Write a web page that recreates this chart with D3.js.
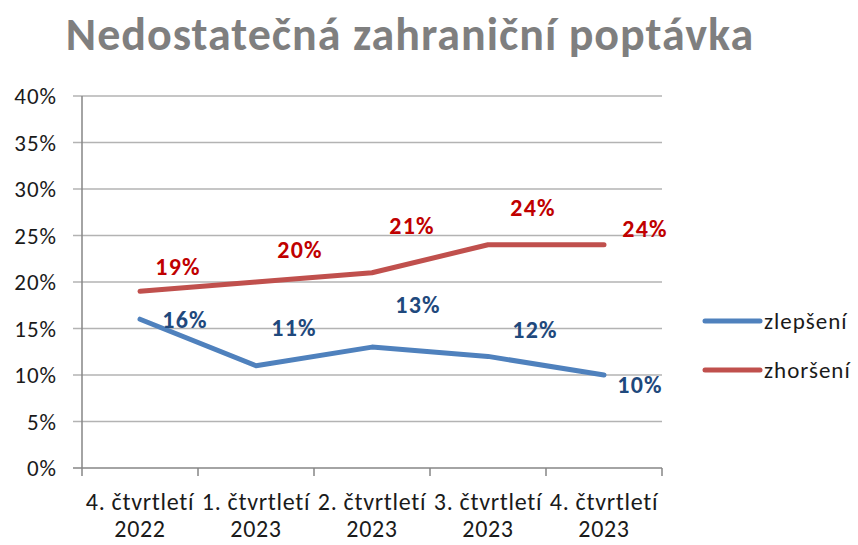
<!DOCTYPE html>
<html>
<head>
<meta charset="utf-8">
<script src="https://cdn.jsdelivr.net/npm/d3@7"></script>
<style>
  body { margin: 0; background: #fff; }
  text { font-family: Carlito, "Liberation Sans Narrow", "Noto Sans", sans-serif; }
</style>
</head>
<body>
<script>
const categories = [["4. čtvrtletí", "2022"], ["1. čtvrtletí", "2023"], ["2. čtvrtletí", "2023"], ["3. čtvrtletí", "2023"], ["4. čtvrtletí", "2023"]]
const zlepseni = [16, 11, 13, 12, 10]
const zhorseni = [19, 20, 21, 24, 24]
const yTicks = [0, 5, 10, 15, 20, 25, 30, 35, 40]
const seriesNames = ["zlepšení", "zhoršení"]

const width = 858, height = 545
const margin = {top: 96, left: 82, right: 196, bottom: 77}

const svg = d3.select("body").append("svg")
  .attr("width", width)
  .attr("height", height)

svg.append("text")
  .attr("x", 410).attr("y", 50)
  .attr("text-anchor", "middle")
  .attr("fill", "#7f7f7f")
  .attr("font-weight", "bold")
  .attr("font-size", 46)
  .attr("letter-spacing", 1)
  .text("Nedostatečná zahraniční poptávka")

const x = d3.scaleBand()
  .domain(d3.range(categories.length))
  .range([margin.left, width - margin.right])

const y = d3.scaleLinear()
  .domain([0, 40])
  .range([height - margin.bottom, margin.top])

// gridlines
svg.append("g")
  .selectAll("line")
  .data(yTicks)
  .enter().append("line")
  .attr("x1", margin.left - 9)
  .attr("x2", width - margin.right)
  .attr("y1", d => y(d)).attr("y2", d => y(d))
  .attr("stroke", d => d === 0 ? "#868686" : "#b3b3b3")
  .attr("stroke-width", 1.5)

svg.append("line")
  .attr("x1", margin.left).attr("x2", margin.left)
  .attr("y1", y(0)).attr("y2", y(40))
  .attr("stroke", "#868686").attr("stroke-width", 1.5)

// y labels
svg.append("g")
  .selectAll("text")
  .data(yTicks)
  .enter().append("text")
  .attr("x", 57).attr("y", d => y(d) + 8)
  .attr("text-anchor", "end")
  .attr("font-size", 23)
  .attr("letter-spacing", 1)
  .attr("fill", "#1a1a1a")
  .text(d => d + "%")

// x ticks at category boundaries
const bounds = d3.range(categories.length + 1).map(i => margin.left + i * x.step())
svg.append("g")
  .selectAll("line")
  .data(bounds)
  .enter().append("line")
  .attr("x1", d => d).attr("x2", d => d)
  .attr("y1", y(0)).attr("y2", y(0) + 8)
  .attr("stroke", "#868686").attr("stroke-width", 1.5)

const cx = i => x(i) + x.bandwidth() / 2

const xl = svg.append("g")
  .selectAll("text")
  .data(categories)
  .enter().append("text")
  .attr("text-anchor", "middle")
  .attr("font-size", 24)
  .attr("letter-spacing", 0.7)
  .attr("fill", "#1a1a1a")
xl.append("tspan").attr("x", (d, i) => cx(i)).attr("y", 510).text(d => d[0])
xl.append("tspan").attr("x", (d, i) => cx(i)).attr("y", 537).text(d => d[1])

const line = d3.line().x((d, i) => cx(i)).y(d => y(d))

// label offsets: [dx, baseline dy] relative to the point
const series = [
  {name: seriesNames[0], values: zlepseni, color: "#4f81bd", label: "#1f497d",
   off: [[45, 9], [38, -30], [46, -34], [47, -18], [36, 18]]},
  {name: seriesNames[1], values: zhorseni, color: "#c0504d", label: "#c00000",
   off: [[38, -16], [44, -24], [40, -39], [45, -29], [41, -8]]}
]

series.forEach(s => {
  svg.append("path")
    .datum(s.values)
    .attr("d", line)
    .attr("fill", "none")
    .attr("stroke", s.color)
    .attr("stroke-width", 5)
    .attr("stroke-linecap", "round")
    .attr("stroke-linejoin", "round")

  svg.append("g")
    .selectAll("text")
    .data(s.values)
    .enter().append("text")
    .attr("x", (d, i) => cx(i) + s.off[i][0])
    .attr("y", (d, i) => y(d) + s.off[i][1])
    .attr("text-anchor", "middle")
    .attr("font-size", 24)
    .attr("letter-spacing", 1.2)
    .attr("font-weight", "bold")
    .attr("fill", s.label)
    .text(d => d + "%")
})

// legend
const leg = svg.append("g")
  .selectAll("g")
  .data(series)
  .enter().append("g")
  .attr("transform", (d, i) => `translate(705, ${321 + i * 49})`)
leg.append("line")
  .attr("x1", 0).attr("x2", 55)
  .attr("stroke", d => d.color)
  .attr("stroke-width", 5)
  .attr("stroke-linecap", "round")
leg.append("text")
  .attr("x", 59).attr("y", 8)
  .attr("font-size", 23)
  .attr("letter-spacing", 1)
  .attr("fill", "#1a1a1a")
  .text(d => d.name)
</script>
</body>
</html>
